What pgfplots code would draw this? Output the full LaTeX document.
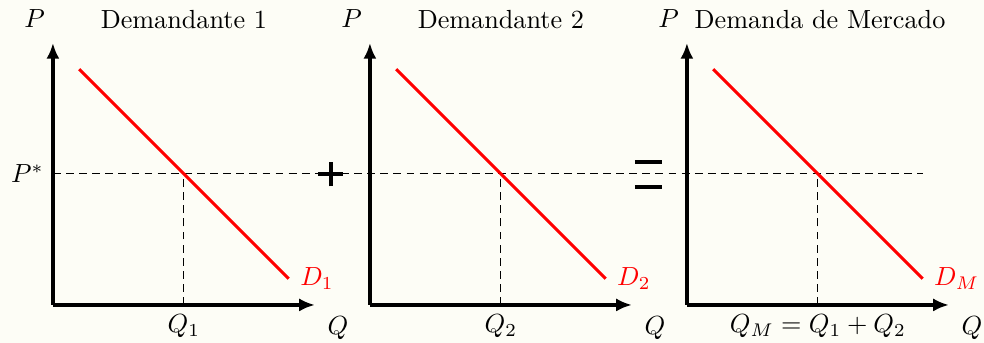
\documentclass[border=0pt]{standalone}
\usepackage{pgfplots}
\pgfplotsset{compat=1.18}
\usetikzlibrary{arrows.meta}
\definecolor{bg}{RGB}{253,253,246}
\begin{document}
\begin{tikzpicture}
\fill[bg] (-20.2pt,-14.5pt) rectangle (355.4pt,116.4pt);
\useasboundingbox (-20.2pt,-14.5pt) rectangle (355.4pt,116.4pt);
\pgfplotsset{
  market/.style={
    scale only axis, width=100pt, height=100pt,
    xmin=0,xmax=10,ymin=0,ymax=10,
    axis lines=left,
    axis line style={line width=1.3pt, -{Latex[length=6pt,width=5pt]}},
    clip=false,
    major tick length=0pt,
    xtick={5}, ytick=\empty,
    anchor=south west,
    ylabel={$P$}, xlabel={$Q$},
    ylabel style={rotate=-90, at={(axis description cs:-0.07,1.095)}, anchor=center},
    xlabel style={at={(axis description cs:1.088,-0.088)}, anchor=center},
  },
  dline/.style={black, line width=0.4pt, dash pattern=on 3pt off 2pt},
  dem/.style={red, line width=1.15pt},
}
\begin{axis}[market, at={(0pt,0pt)},
  ytick={5}, yticklabels={$P^*$}, xticklabels={$Q_1$}]
  \addplot[dline] coordinates {(0,5) (33.2,5)};
  \addplot[dline] coordinates {(5,0) (5,5)};
  \addplot[dem] coordinates {(1,9) (9,1)} node[pos=1, anchor=west, xshift=0.5pt] {$D_1$};
  \node[anchor=center] at (axis description cs:0.5,1.088) {Demandante 1};
\end{axis}
\begin{axis}[market, at={(121pt,0pt)},
  xticklabels={$Q_2$}]
  \addplot[dline] coordinates {(5,0) (5,5)};
  \addplot[dem] coordinates {(1,9) (9,1)} node[pos=1, anchor=west, xshift=0.5pt] {$D_2$};
  \node[anchor=center] at (axis description cs:0.5,1.088) {Demandante 2};
\end{axis}
\begin{axis}[market, at={(242pt,0pt)},
  xticklabels={$Q_M = Q_1 + Q_2$}]
  \addplot[dline] coordinates {(5,0) (5,5)};
  \addplot[dem] coordinates {(1,9) (9,1)} node[pos=1, anchor=west, xshift=0.5pt] {$D_M$};
  \node[anchor=center] at (axis description cs:0.508,1.088) {Demanda de Mercado};
\end{axis}
\draw[line width=1.3pt] (101.35pt,50pt) -- (110.85pt,50pt);
\draw[line width=1.3pt] (106.1pt,45.25pt) -- (106.1pt,54.75pt);
\draw[line width=1.5pt] (222.15pt,54.6pt) -- (232.45pt,54.6pt);
\draw[line width=1.5pt] (222.15pt,45.0pt) -- (232.45pt,45.0pt);
\end{tikzpicture}
\end{document}
